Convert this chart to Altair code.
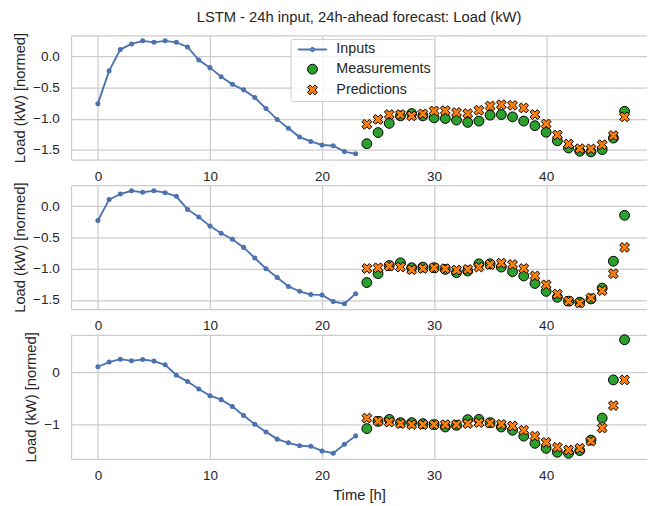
import altair as alt
import pandas as pd

# ---------------- data ----------------
hours_in = list(range(24))
hours_out = list(range(24, 48))
series_names = ["Inputs", "Measurements", "Predictions"]
x_ticks = [0, 10, 20, 30, 40]

inputs_1 = [-0.758, -0.232, 0.11, 0.2, 0.25, 0.226, 0.25, 0.226, 0.152, -0.058, -0.18, -0.327,
            -0.448, -0.537, -0.659, -0.837, -1.011, -1.153, -1.295, -1.365, -1.422, -1.433, -1.528, -1.564]
meas_1 = [-1.401, -1.222, -1.075, -0.954, -0.917, -0.954, -0.985, -0.996, -1.022, -1.059, -1.038, -0.943,
          -0.933, -0.97, -1.038, -1.112, -1.217, -1.354, -1.47, -1.522, -1.533, -1.496, -1.311, -0.88]
pred_1 = [-1.09, -1.011, -0.933, -0.933, -0.954, -0.922, -0.875, -0.87, -0.9, -0.917, -0.864, -0.796,
          -0.775, -0.785, -0.827, -0.933, -1.085, -1.259, -1.406, -1.48, -1.485, -1.417, -1.27, -0.97]

inputs_2 = [-0.231, 0.104, 0.193, 0.245, 0.22, 0.245, 0.214, 0.157, -0.053, -0.173, -0.32, -0.435,
            -0.53, -0.66, -0.829, -1.0, -1.143, -1.284, -1.363, -1.415, -1.42, -1.525, -1.562, -1.4]
meas_2 = [-1.222, -1.08, -0.95, -0.907, -0.986, -0.975, -0.986, -1.012, -1.064, -1.038, -0.923, -0.923,
          -0.975, -1.049, -1.116, -1.237, -1.363, -1.458, -1.52, -1.536, -1.484, -1.311, -0.881, -0.147]
pred_2 = [-0.997, -0.986, -0.959, -0.975, -1.017, -0.997, -0.986, -1.0, -1.022, -1.012, -0.975, -0.934,
          -0.912, -0.934, -0.997, -1.116, -1.258, -1.406, -1.52, -1.547, -1.468, -1.352, -1.08, -0.66]

inputs_3 = [0.115, 0.205, 0.262, 0.229, 0.256, 0.224, 0.153, -0.05, -0.172, -0.317, -0.446, -0.522,
            -0.656, -0.828, -1.0, -1.147, -1.287, -1.358, -1.415, -1.426, -1.516, -1.56, -1.388, -1.224]
meas_3 = [-1.083, -0.943, -0.904, -0.968, -0.968, -0.987, -1.006, -1.052, -1.019, -0.91, -0.904, -0.968,
          -1.052, -1.115, -1.229, -1.369, -1.465, -1.541, -1.56, -1.51, -1.306, -0.88, -0.14, 0.638]
pred_3 = [-0.88, -0.937, -0.956, -0.987, -1.006, -1.006, -1.006, -1.006, -1.006, -0.987, -0.968, -0.975,
          -1.0, -1.032, -1.115, -1.229, -1.35, -1.446, -1.497, -1.465, -1.325, -1.071, -0.637, -0.14]

y_ticks_a = [0.0, -0.5, -1.0, -1.5]
y_ticks_b = [0, -1]

# ---------------- style ----------------
FONT = "Liberation Sans"
TXT = "#262626"
GRID = "#cccccc"
BLUE = "#4c72b0"
GREEN = "#2ca02c"
ORANGE = "#ff7f0e"
X_PATH = "M-0.5,-1L0,-0.5L0.5,-1L1,-0.5L0.5,0L1,0.5L0.5,1L0,0.5L-0.5,1L-1,0.5L-0.5,0L-1,-0.5Z"
LINE_PATH = ("M-2.9,-0.1H2.9V0.1H-2.9Z"
             "M-0.45,0A0.45,0.45 0 1,0 0.45,0A0.45,0.45 0 1,0 -0.45,0Z")
XDOM = [-2.4, 49.0]
W, H = 585, 126

AX = dict(labelFont=FONT, labelFontSize=13.75, labelColor=TXT,
          titleFont=FONT, titleFontSize=15, titleColor=TXT, titleFontWeight="normal",
          gridColor=GRID, gridWidth=1.25, domainColor=GRID, domainWidth=1.25, ticks=False)


def panel(inp, meas, pred, ydom, yticks, yfmt, legend_on, xtitle, title=None):
    df_in = pd.DataFrame({"t": hours_in, "v": inp})
    df_out = pd.DataFrame({
        "t": hours_out + hours_out,
        "v": meas + pred,
        "series": ["Measurements"] * len(meas) + ["Predictions"] * len(pred),
    })
    xscale = alt.Scale(domain=XDOM, nice=False, zero=False)
    yenc = alt.Y("v:Q", scale=alt.Scale(domain=ydom, nice=False, zero=False),
                 axis=alt.Axis(values=yticks, format=yfmt, title="Load (kW) [normed]",
                               grid=True, domain=True, labelPadding=12, titlePadding=5, **AX))
    x_bottom = alt.X("t:Q", scale=xscale,
                     axis=alt.Axis(values=x_ticks, format="d", title=xtitle, grid=True,
                                   domain=True, labelPadding=10, titlePadding=6,
                                   labelFlush=False, **AX))
    x_top = alt.X("t:Q", scale=xscale,
                  axis=alt.Axis(orient="top", labels=False, grid=False, domain=True, title=None,
                                domainColor=GRID, domainWidth=1.25, ticks=False))
    x_none = alt.X("t:Q", scale=xscale, axis=None)

    line = alt.Chart(df_in).mark_line(color=BLUE, strokeWidth=1.9).encode(x=x_bottom, y=yenc)
    dots = alt.Chart(df_in).mark_circle(color=BLUE, size=26, opacity=1).encode(x=x_top, y=yenc)

    if legend_on:
        leg = alt.Legend(title=None, orient="none", legendX=223, legendY=3.5,
                         labelFont=FONT, labelFontSize=14.5, labelColor=TXT,
                         symbolSize=100, symbolStrokeWidth=1, symbolOpacity=1,
                         symbolOffset=11.5, labelOffset=17, rowPadding=5, padding=3.5,
                         fillColor="rgba(255,255,255,0.8)", strokeColor=GRID,
                         cornerRadius=3)
    else:
        leg = None

    pts = alt.Chart(df_out).mark_point(filled=True, size=100, strokeWidth=1, opacity=1).encode(
        x=x_none,
        y=yenc,
        fill=alt.Fill("series:N", scale=alt.Scale(domain=series_names, range=[BLUE, GREEN, ORANGE]),
                      legend=leg),
        stroke=alt.Stroke("series:N", scale=alt.Scale(domain=series_names, range=[BLUE, "black", "black"]),
                          legend=leg),
        shape=alt.Shape("series:N", scale=alt.Scale(domain=series_names, range=[LINE_PATH, "circle", X_PATH]),
                        legend=leg),
    )
    props = dict(width=W, height=H)
    if title:
        props["title"] = alt.TitleParams(title, font=FONT, fontSize=15, color=TXT, fontWeight="normal",
                                         anchor="middle", frame="group", offset=-5,
                                         baseline="alphabetic")
    return alt.layer(line, dots, pts).resolve_axis(x="independent").properties(**props)


p1 = panel(inputs_1, meas_1, pred_1, [-1.655, 0.336], y_ticks_a, ".1f", True, None,
           title="LSTM - 24h input, 24h-ahead forecast: Load (kW)")
p2 = panel(inputs_2, meas_2, pred_2, [-1.648, 0.335], y_ticks_a, ".1f", False, None)
p3 = panel(inputs_3, meas_3, pred_3, [-1.669, 0.734], y_ticks_b, "d", False, "Time [h]")

chart = alt.vconcat(p1, p2, p3, spacing=26, bounds="flush").resolve_scale(
    fill="independent", stroke="independent", shape="independent"
).properties(
    padding={"left": 4, "top": -2, "right": 0, "bottom": 0},
    background="white",
).configure_view(stroke=None)

chart.save("out.html", embed_options={"renderer": "svg", "actions": False})
